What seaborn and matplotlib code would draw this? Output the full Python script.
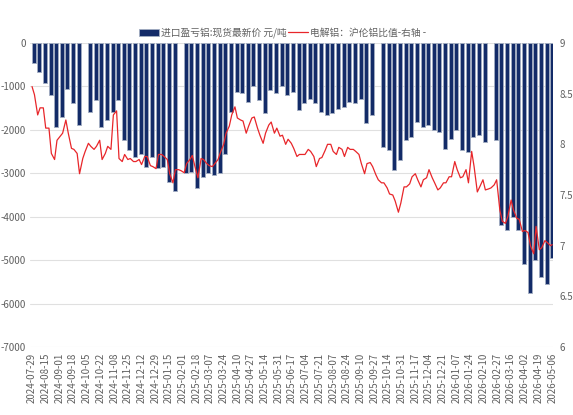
import numpy as np
import pandas as pd
import matplotlib
matplotlib.use('Agg')
import matplotlib.pyplot as plt
import seaborn as sns

# ── Data ───────────────────────────────────────────────
# import profit/loss (yuan/ton), one value per week, weeks start 2024-07-29
# nan = holiday week with no trading
loss = [-470, -660, -930, -1200, -1930, -1700, -1050, -1390, -1890, np.nan,
        -1580, -1310, -1930, -1780, -1580, -1310, -2240, -2470, -2620, -2550,
        -2850, -2620, -2890, -2850, -3200, -3400, np.nan, -3000, -2970, -3350,
        -3080, -3000, -3050, -3000, -2550, -1600, -1120, -1160, -1350, -1000,
        -1310, -1620, -1080, -1160, -1000, -1200, -1120, -1550, -1390, -1280,
        -1390, -1580, -1660, -1620, -1510, -1470, -1350, -1390, -1280, -1850,
        -1660, np.nan, -2390, -2470, -2930, -2700, -2240, -2160, -1810, -1930,
        -1890, -2010, -2050, -2430, -2200, -2010, -2470, -2510, -2160, -2120,
        -2280, np.nan, -2240, -4200, -4300, -4000, -4300, -5100, -5750, -5000,
        -5400, -5550, -4950]

# SHFE/LME aluminium ratio, Monday and Thursday of each week, last point 2026-05-06
ratio = [8.57, 8.49, 8.29, 8.36, 8.36, 8.16, 8.16, 7.91, 7.85, 8.04,
         8.08, 8.11, 8.24, 8.11, 7.96, 7.95, 7.91, 7.71, 7.86, 7.93,
         8.01, 7.98, 7.95, 7.98, 8.04, 7.85, 7.91, 7.98, 7.95, 8.29,
         8.33, 7.86, 7.83, 7.90, 7.85, 7.86, 7.83, 7.83, 7.85, 7.80,
         7.88, 7.88, 7.79, 7.78, 7.76, 7.90, 7.90, 7.88, 7.85, 7.71,
         7.62, 7.75, 7.75, 7.74, 7.72, 7.81, 7.85, 7.89, 7.76, 7.67,
         7.86, 7.85, 7.81, 7.79, 7.78, 7.81, 7.85, 7.92, 8.00, 8.11,
         8.18, 8.29, 8.37, 8.26, 8.24, 8.23, 8.11, 8.18, 8.26, 8.27,
         8.16, 8.09, 8.01, 8.11, 8.19, 8.22, 8.11, 8.16, 8.08, 8.09,
         8.00, 8.05, 8.01, 7.96, 7.88, 7.90, 7.90, 7.90, 7.95, 7.93,
         7.88, 7.78, 7.86, 7.87, 7.94, 8.00, 8.00, 7.93, 7.90, 7.97,
         7.95, 7.88, 7.97, 7.95, 7.95, 7.93, 7.90, 7.81, 7.71, 7.81,
         7.82, 7.78, 7.70, 7.65, 7.62, 7.62, 7.57, 7.51, 7.50, 7.44,
         7.33, 7.42, 7.58, 7.58, 7.61, 7.68, 7.71, 7.65, 7.58, 7.65,
         7.67, 7.75, 7.67, 7.62, 7.55, 7.57, 7.62, 7.62, 7.68, 7.68,
         7.83, 7.75, 7.67, 7.68, 7.75, 7.62, 7.93, 7.78, 7.53, 7.58,
         7.65, 7.55, 7.56, 7.57, 7.60, 7.65, 7.35, 7.24, 7.22, 7.29,
         7.45, 7.35, 7.27, 7.26, 7.14, 7.15, 7.13, 7.00, 6.92, 7.19,
         6.96, 6.98, 7.05, 7.03, 7.00, 7.01]

start_date = '2024-07-29'
end_date = '2026-05-06'
left_ticks = [0, -1000, -2000, -3000, -4000, -5000, -6000, -7000]
right_ticks = [9, 8.5, 8, 7.5, 7, 6.5, 6]

label_bar = '进口盈亏铝:现货最新价 元/吨'
label_line = '电解铝：沪伦铝比值-右轴 -'

# ── Dates ──────────────────────────────────────────────
week_start = pd.date_range(start_date, periods=len(loss), freq='7D')
bar_center = week_start + pd.Timedelta(days=2)
thursdays = week_start[:-1] + pd.Timedelta(days=3)
line_dates = sorted(list(week_start) + list(thursdays)) + [pd.Timestamp(end_date)]

tick_dates = pd.date_range(start_date, end_date, freq='17D')

# ── Style ──────────────────────────────────────────────
sns.set_theme(style='white')
plt.rcParams['font.family'] = ['Noto Sans CJK SC', 'DejaVu Sans']
plt.rcParams['axes.unicode_minus'] = False

fig = plt.figure(figsize=(5.73, 4.15), dpi=100)
ax = fig.add_axes([0.0524, 0.1639, 0.9127, 0.7325])
ax2 = ax.twinx()

navy = '#132b68'
red = '#e8262a'
grey_txt = '#606060'

bars = ax.bar(bar_center, loss, width=5.0, color=navy,
              edgecolor='#a3aec2', linewidth=0.6, label=label_bar, zorder=2)

sns.lineplot(x=line_dates, y=ratio, ax=ax2, color=red, linewidth=0.9,
             label=label_line, legend=False)

# axes ranges
ax.set_ylim(-7000, 0)
ax2.set_ylim(6, 9)
x0 = pd.Timestamp(start_date) - pd.Timedelta(days=2.5)
x1 = pd.Timestamp(end_date) + pd.Timedelta(days=1)
ax.set_xlim(x0, x1)

ax.set_yticks(left_ticks)
ax.set_yticklabels([str(v) for v in left_ticks])
ax2.set_yticks(right_ticks)
ax2.set_yticklabels([f'{v:g}' for v in right_ticks])

ax.set_xticks(tick_dates)
ax.set_xticklabels([d.strftime('%Y-%m-%d') for d in tick_dates],
                   rotation=90)

ax.grid(axis='y', color='#e0e0e0', linewidth=0.8, zorder=0)
ax.grid(axis='x', visible=False)
ax2.grid(False)

for a in (ax, ax2):
    for s in a.spines.values():
        s.set_visible(False)
    a.tick_params(length=0, labelsize=7, colors=grey_txt)
    a.set_xlabel('')
    a.set_ylabel('')
ax.tick_params(axis='y', pad=3)
ax.tick_params(axis='x', pad=4)
ax2.tick_params(axis='y', pad=5)

# ── Legend ─────────────────────────────────────────────
handles = [bars, ax2.get_lines()[0]]
fig.legend(handles, [label_bar, label_line], loc='center',
           bbox_to_anchor=(0.493, 0.921), ncol=2, frameon=False,
           fontsize=7, handlelength=2.0, handleheight=0.8,
           columnspacing=0.2, handletextpad=0.2,
           labelcolor=grey_txt)

plt.savefig('out.png', dpi=100)
